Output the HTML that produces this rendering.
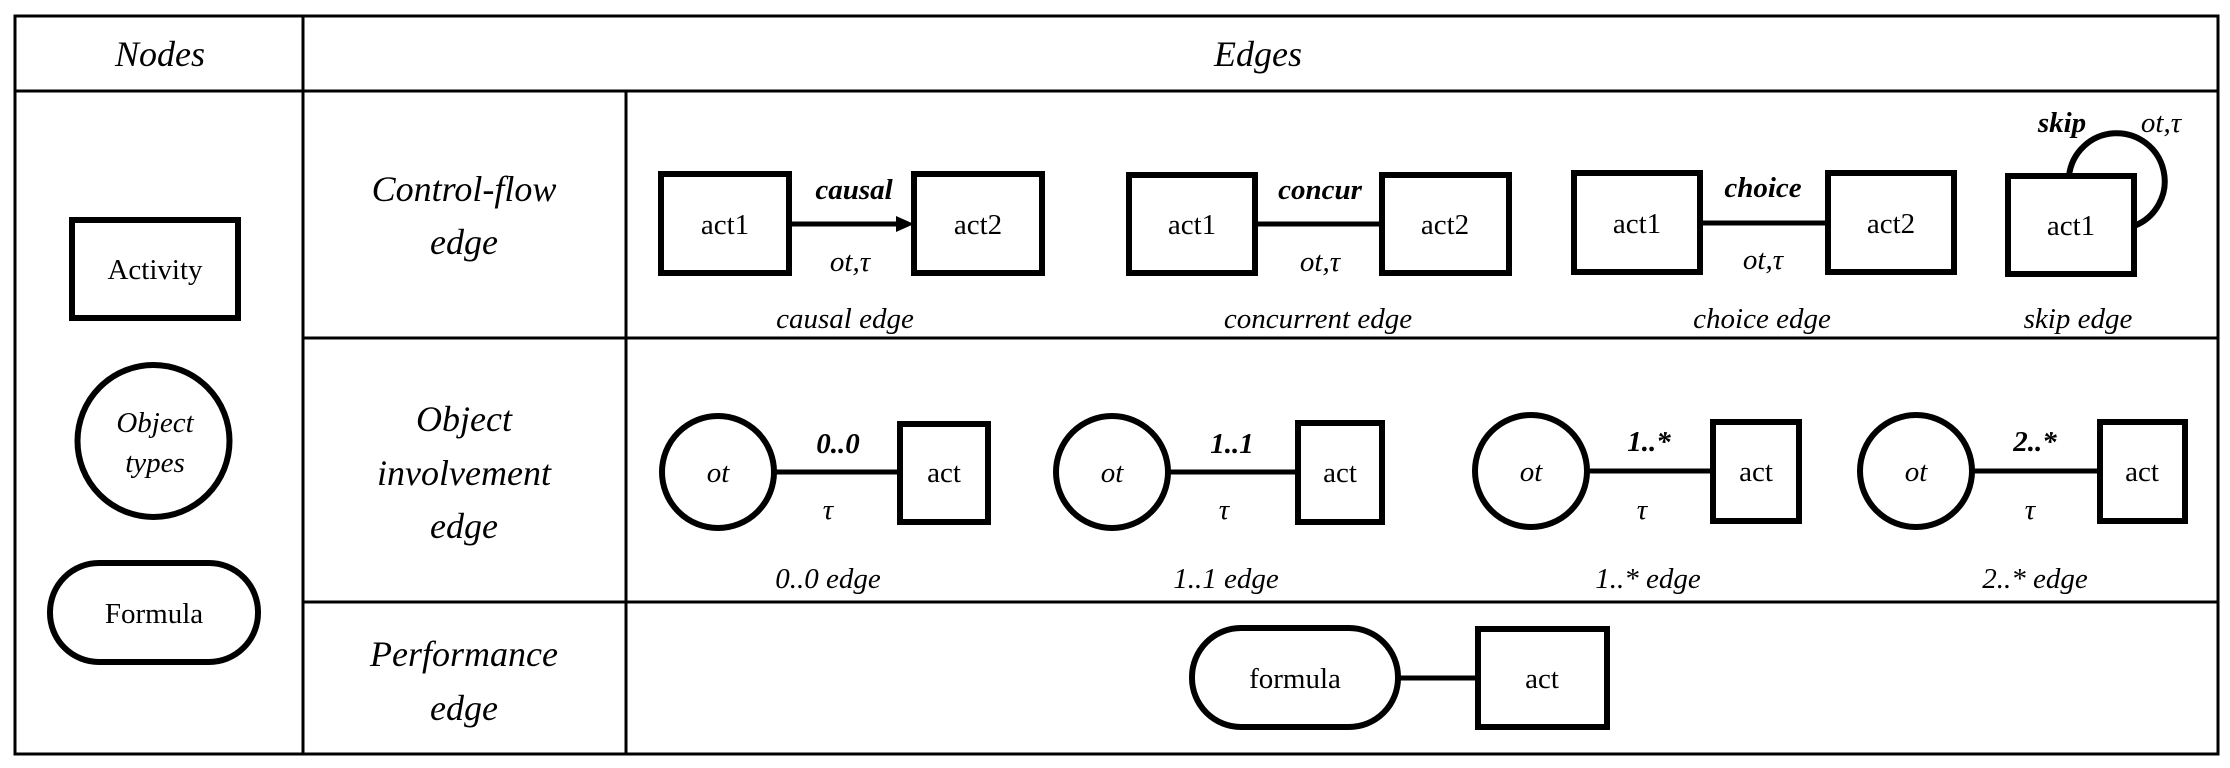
<!DOCTYPE html>
<html><head><meta charset="utf-8"><style>
html,body{margin:0;padding:0;background:#fff;}
svg{display:block;}
text{font-family:"Liberation Serif",serif;fill:#000;}
.i{font-style:italic;}
.b{font-weight:bold;font-style:italic;}
</style></head><body>
<svg width="2230" height="768" viewBox="0 0 2230 768" xmlns="http://www.w3.org/2000/svg">
<g stroke="#000" stroke-width="3" fill="none">
<rect x="15" y="16" width="2203" height="738"/>
<line x1="303" y1="16" x2="303" y2="754"/>
<line x1="15" y1="91" x2="2218" y2="91"/>
<line x1="626" y1="91" x2="626" y2="754"/>
<line x1="303" y1="338" x2="2218" y2="338"/>
<line x1="303" y1="602" x2="2218" y2="602"/>
</g>
<g stroke="#000" stroke-width="6" fill="#fff">
<rect x="72" y="220" width="166" height="98"/>
<ellipse cx="153.5" cy="441" rx="76" ry="76"/>
<rect x="50" y="563" width="208" height="99" rx="49"/>
<!-- control flow -->
<rect x="661" y="174" width="128" height="99"/>
<rect x="914" y="174" width="128" height="99"/>
<rect x="1129" y="175" width="126" height="98"/>
<rect x="1382" y="175" width="127" height="98"/>
<rect x="1574" y="173" width="126" height="99"/>
<rect x="1828" y="173" width="126" height="99"/>
<path d="M2069 176 A48 48 0 1 1 2134 226" fill="none"/>
<rect x="2008" y="176" width="126" height="98"/>
<!-- object involvement -->
<ellipse cx="718" cy="472" rx="56" ry="56"/>
<rect x="900" y="424" width="88" height="98"/>
<ellipse cx="1112" cy="472" rx="56" ry="56"/>
<rect x="1298" y="423" width="84" height="99"/>
<ellipse cx="1531" cy="471" rx="56" ry="56"/>
<rect x="1713" y="422" width="86" height="99"/>
<ellipse cx="1916" cy="471" rx="56" ry="56"/>
<rect x="2100" y="422" width="85" height="99"/>
<!-- performance -->
<rect x="1192" y="628" width="206" height="99" rx="49"/>
<rect x="1478" y="629" width="129" height="98"/>
</g>
<g stroke="#000" stroke-width="5">
<line x1="789" y1="224" x2="898" y2="224"/>
<line x1="1255" y1="224" x2="1382" y2="224"/>
<line x1="1700" y1="223" x2="1828" y2="223"/>
<line x1="774" y1="472" x2="900" y2="472"/>
<line x1="1168" y1="472" x2="1298" y2="472"/>
<line x1="1587" y1="471" x2="1713" y2="471"/>
<line x1="1972" y1="471" x2="2100" y2="471"/>
<line x1="1398" y1="678" x2="1478" y2="678"/>
</g>
<polygon points="896,216 914,224 896,232" fill="#000"/>
<g text-anchor="middle" font-size="36">
<text class="i" x="160" y="66">Nodes</text>
<text class="i" x="1258" y="66">Edges</text>
<text class="i" x="464" y="201">Control-flow</text>
<text class="i" x="464" y="254">edge</text>
<text class="i" x="464" y="431">Object</text>
<text class="i" x="464" y="485">involvement</text>
<text class="i" x="464" y="538">edge</text>
<text class="i" x="464" y="666">Performance</text>
<text class="i" x="464" y="720">edge</text>
</g>
<g text-anchor="middle" font-size="29">
<text x="155" y="279">Activity</text>
<text class="i" x="155" y="432">Object</text>
<text class="i" x="155" y="472">types</text>
<text x="154" y="623">Formula</text>
<text x="725" y="234">act1</text>
<text x="978" y="234">act2</text>
<text x="1192" y="234">act1</text>
<text x="1445" y="234">act2</text>
<text x="1637" y="233">act1</text>
<text x="1891" y="233">act2</text>
<text x="2071" y="235">act1</text>
<text class="i" x="718" y="482">ot</text>
<text x="944" y="482">act</text>
<text class="i" x="1112" y="482">ot</text>
<text x="1340" y="482">act</text>
<text class="i" x="1531" y="481">ot</text>
<text x="1756" y="481">act</text>
<text class="i" x="1916" y="481">ot</text>
<text x="2142" y="481">act</text>
<text x="1295" y="688">formula</text>
<text x="1542" y="688">act</text>
<text class="b" x="854" y="199">causal</text>
<text class="b" x="1320" y="199">concur</text>
<text class="b" x="1763" y="197">choice</text>
<text class="b" x="2062" y="132">skip</text>
<text class="i" x="2161" y="132">ot,τ</text>
<text class="i" x="850" y="271">ot,τ</text>
<text class="i" x="1320" y="271">ot,τ</text>
<text class="i" x="1763" y="269">ot,τ</text>
<text class="i" x="845" y="328">causal edge</text>
<text class="i" x="1318" y="328">concurrent edge</text>
<text class="i" x="1762" y="328">choice edge</text>
<text class="i" x="2078" y="328">skip edge</text>
<text class="b" x="838" y="453">0..0</text>
<text class="b" x="1232" y="453">1..1</text>
<text class="b" x="1649" y="451">1..*</text>
<text class="b" x="2035" y="451">2..*</text>
<text class="i" x="828" y="519">τ</text>
<text class="i" x="1224" y="519">τ</text>
<text class="i" x="1642" y="519">τ</text>
<text class="i" x="2030" y="519">τ</text>
<text class="i" x="828" y="588">0..0 edge</text>
<text class="i" x="1226" y="588">1..1 edge</text>
<text class="i" x="1648" y="588">1..* edge</text>
<text class="i" x="2035" y="588">2..* edge</text>
</g>
</svg>
</body></html>
